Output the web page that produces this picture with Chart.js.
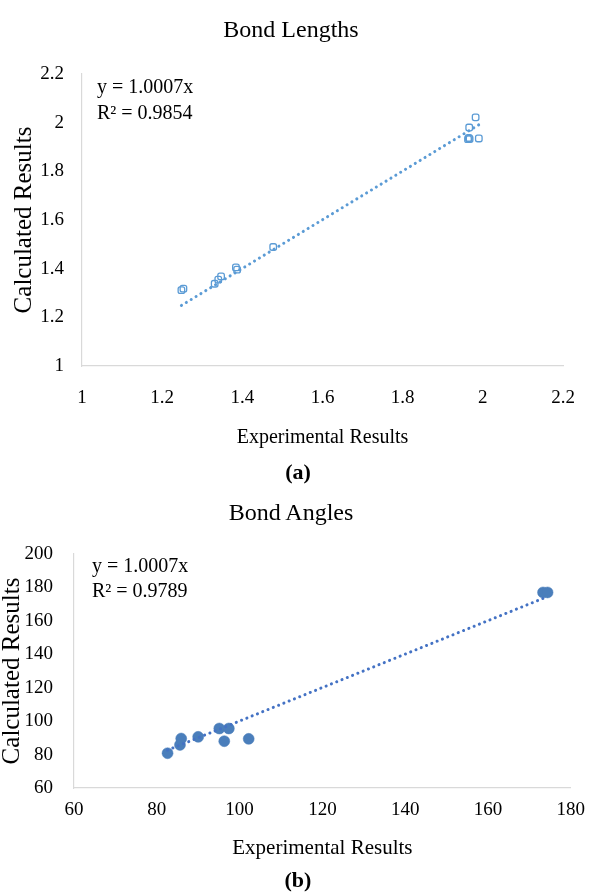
<!DOCTYPE html>
<html><head><meta charset="utf-8">
<script src="https://cdn.jsdelivr.net/npm/chart.js@4.4.1/dist/chart.umd.min.js"></script>
<style>
html,body{margin:0;padding:0;background:#fff;}
body{width:596px;height:895px;position:relative;overflow:hidden;font-family:'Liberation Serif','Times New Roman',serif;color:#000;}
.box{position:absolute;left:0;width:596px;}
.eq{position:absolute;font-size:20px;line-height:24px;white-space:nowrap;color:#000;}
.ttl{position:absolute;left:191px;width:200px;text-align:center;font-size:24px;line-height:28px;white-space:nowrap;}
.lab{position:absolute;left:0;width:596px;text-align:center;font-weight:bold;font-size:22px;line-height:26px;}
</style></head><body>
<div class="box" style="top:0;height:455px"><canvas id="c1" width="596" height="455"></canvas></div>
<div class="box" style="top:480px;height:395px"><canvas id="c2" width="596" height="395"></canvas></div>
<div class="ttl" style="top:15px">Bond Lengths</div>
<div class="ttl" style="top:498px">Bond Angles</div>
<div class="eq" style="left:97px;top:74px">y = 1.0007x</div>
<div class="eq" style="left:97px;top:100px">R² = 0.9854</div>
<div class="eq" style="left:92px;top:553px">y = 1.0007x</div>
<div class="eq" style="left:92px;top:578px">R² = 0.9789</div>
<div class="lab" style="top:459px">(a)</div>
<div class="lab" style="top:867px">(b)</div>
<script>
// ---- Data: Bond Lengths ----
const lenExp  = [1.248, 1.253, 1.331, 1.340, 1.347, 1.384, 1.387, 1.477, 1.963, 1.965, 1.967, 1.966, 1.982, 1.990];
const lenCalc = [1.312, 1.318, 1.338, 1.355, 1.368, 1.405, 1.396, 1.489, 1.932, 1.937, 1.933, 1.980, 2.022, 1.935];
const lenSlope = 1.0007;
const lenXTicks = [1, 1.2, 1.4, 1.6, 1.8, 2, 2.2];
const lenYTicks = [1, 1.2, 1.4, 1.6, 1.8, 2, 2.2];

// ---- Data: Bond Angles ----
const angExp  = [82.6, 85.6, 85.9, 90.0, 95.1, 97.4, 96.3, 102.2, 173.3, 174.4];
const angCalc = [80.8, 85.8, 89.6, 90.6, 95.6, 95.6, 88.0, 89.4, 177.0, 177.0];
const angSlope = 1.0007;
const angXTicks = [60, 80, 100, 120, 140, 160, 180];
const angYTicks = [60, 80, 100, 120, 140, 160, 180, 200];

const FONT = "'Liberation Serif', 'Times New Roman', serif";
Chart.defaults.font.family = FONT;
Chart.defaults.color = '#000';

function pts(xs, ys){ return xs.map((x,i)=>({x:x, y:ys[i]})); }
function trend(xs, slope){
  const mn = Math.min(...xs), mx = Math.max(...xs);
  return [{x:mn, y:slope*mn}, {x:mx, y:slope*mx}];
}
function tickSetter(vals){ return function(scale){ scale.ticks = vals.map(v=>({value:v})); }; }

function makeChart(id, cfg){
  return new Chart(document.getElementById(id), {
    type: 'scatter',
    data: {
      datasets: [
        {
          type: 'line',
          data: trend(cfg.xs, cfg.slope),
          borderColor: cfg.lineColor,
          borderWidth: 3,
          borderDash: [0.1, 5.6],
          borderCapStyle: 'round',
          pointRadius: 0,
          fill: false
        },
        {
          data: pts(cfg.xs, cfg.ys),
          pointStyle: cfg.pointStyle,
          pointRadius: cfg.pointRadius,
          pointBackgroundColor: cfg.pointFill,
          pointBorderColor: cfg.pointColor,
          pointBorderWidth: cfg.pointBorderWidth
        }
      ]
    },
    options: {
      responsive: false,
      animation: false,
      layout: { padding: { left: 0, right: cfg.padRight, top: 74, bottom: 0 } },
      plugins: {
        legend: { display: false },
        tooltip: { enabled: false },
        title: { display: false }
      },
      scales: {
        x: {
          type: 'linear', min: cfg.xMin, max: cfg.xMax,
          afterBuildTicks: tickSetter(cfg.xTicks),
          afterFit: function(s){ s.height = cfg.xHeight; },
          grid: { display: true, color: 'rgba(0,0,0,0)', drawTicks: false },
          border: { display: true, color: '#d9d9d9', width: 1.2 },
          ticks: { padding: cfg.xTickPad, color: '#000', font: { family: FONT, size: 19 },
                   maxRotation: 0, autoSkip: false, callback: v => String(v) },
          title: { display: true, text: 'Experimental Results', color: '#000',
                   font: { family: FONT, size: cfg.xTitleSize },
                   padding: { top: 0, bottom: cfg.xTitlePadB } }
        },
        y: {
          type: 'linear', min: cfg.yMin, max: cfg.yMax,
          afterBuildTicks: tickSetter(cfg.yTicks),
          afterFit: function(s){ s.width = cfg.yWidth; },
          grid: { display: true, color: 'rgba(0,0,0,0)', drawTicks: false },
          border: { display: true, color: '#d9d9d9', width: 1.2 },
          ticks: { padding: cfg.yTickPad, color: '#000', font: { family: FONT, size: 19 },
                   autoSkip: false, callback: v => String(v) },
          title: { display: true, text: 'Calculated Results', color: '#000',
                   font: { family: FONT, size: 25, lineHeight: cfg.yTitleLH },
                   padding: { top: cfg.yTitlePadT, bottom: 0 } }
        }
      }
    }
  });
}

makeChart('c1', {
  xs: lenExp, ys: lenCalc, slope: lenSlope,
  xMin: 1, xMax: 2.2, yMin: 1, yMax: 2.2, xTicks: lenXTicks, yTicks: lenYTicks,
  padRight: 33, xHeight: 89, yWidth: 82, xTickPad: 21, yTickPad: 18,
  xTitleSize: 20, xTitlePadB: 5, yTitleLH: 1.2, yTitlePadT: 9,
  lineColor: '#5b9bd5', pointColor: '#5b9bd5', pointFill: 'rgba(255,255,255,0)',
  pointStyle: 'rectRounded', pointRadius: 3.8, pointBorderWidth: 1.3
});

makeChart('c2', {
  xs: angExp, ys: angCalc, slope: angSlope,
  xMin: 60, xMax: 180, yMin: 60, yMax: 200, xTicks: angXTicks, yTicks: angYTicks,
  padRight: 21, xHeight: 87, yWidth: 74, xTickPad: 11, yTickPad: 21,
  xTitleSize: 21, xTitlePadB: 14, yTitleLH: 1.0, yTitlePadT: 0,
  lineColor: '#4472c4', pointColor: '#4a7ebb', pointFill: '#4a7ebb',
  pointStyle: 'circle', pointRadius: 5.5, pointBorderWidth: 0.5
});
</script>
</body></html>
